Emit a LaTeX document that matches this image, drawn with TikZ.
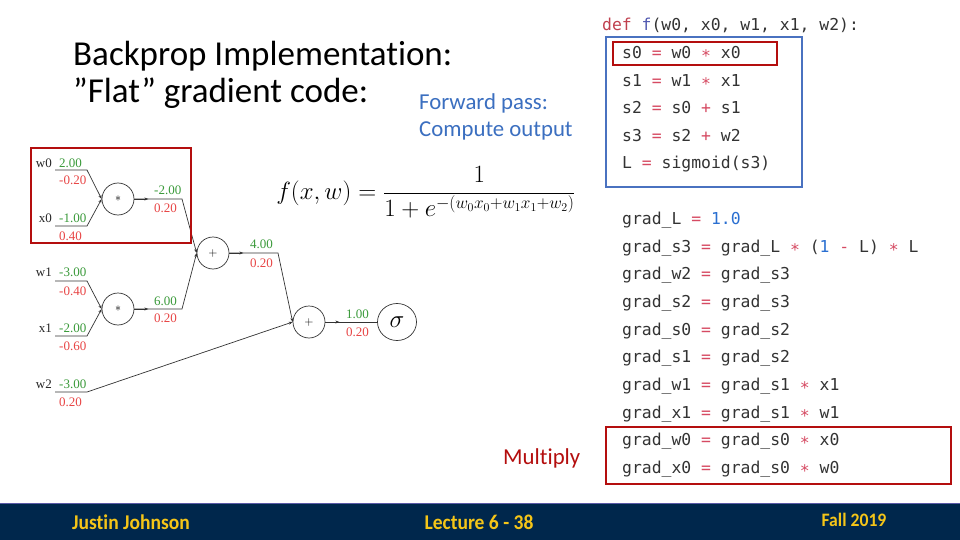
\documentclass[tikz,border=0pt]{standalone}
\usepackage{fontspec}
\setmainfont[Ligatures=NoCommon]{Carlito}
\newfontfamily\codefont{DejaVu Sans Mono}
\newfontfamily\graphfont{Liberation Serif}
\usetikzlibrary{arrows.meta,calc,shapes.geometric}
\definecolor{footnavy}{HTML}{00274C}
\definecolor{footyellow}{HTML}{F5C518}
\definecolor{boxred}{HTML}{B40E0E}
\definecolor{boxblue}{HTML}{4A72C0}
\definecolor{fwdblue}{HTML}{3B6FC0}
\definecolor{valgreen}{HTML}{3A9A3A}
\definecolor{valred}{HTML}{E84545}
\definecolor{codetxt}{HTML}{333333}
\definecolor{codeop}{HTML}{D64A62}
\definecolor{codekw}{HTML}{C0404E}
\definecolor{codefn}{HTML}{5058B0}
\definecolor{codenum}{HTML}{2A6FD1}
\definecolor{edgegray}{HTML}{333333}
\newcommand\cop[1]{\textcolor{codeop}{#1}}
\newcommand\cnum[1]{\textcolor{codenum}{#1}}
\newcommand\cmul{\cop{∗}}
\newcommand\foot[1]{\scalebox{0.93}[1]{\bfseries #1}}
\begin{document}
\begin{tikzpicture}[x=1pt,y=-1pt,
  titletext/.style={anchor=base west, font=\fontsize{35}{38}\selectfont, text=black, inner sep=0},
  fwdtext/.style={anchor=base west, font=\fontsize{22.8}{24}\selectfont, text=fwdblue, inner sep=0},
  codeline/.style={anchor=base west, font=\codefont\fontsize{16.4}{18}\selectfont, text=codetxt, inner sep=0},
  opnode/.style={circle, draw=edgegray, line width=0.7pt, minimum size=32pt, inner sep=0, font=\fontsize{13}{14}\selectfont},
  glab/.style={font=\graphfont\fontsize{13}{14}\selectfont, inner sep=0, anchor=base east, text=black!85},
  valg/.style={font=\graphfont\fontsize{13}{14}\selectfont, inner sep=0, anchor=base west, text=valgreen},
  valr/.style={font=\graphfont\fontsize{13}{14}\selectfont, inner sep=0, anchor=base west, text=valred},
  wire/.style={draw=edgegray, line width=0.7pt},
  tipped/.style={-{Stealth[length=4pt,width=3pt]}},
  redbox/.style={draw=boxred, line width=2.6pt},
  bluebox/.style={draw=boxblue, line width=2.4pt},
  foottext/.style={anchor=center, font=\fontsize{21}{22}\selectfont, text=footyellow, inner sep=0}
]
\useasboundingbox (0,0) rectangle (960,540);
\fill[white] (0,0) rectangle (960,540);

% title
\node[titletext] (t1) at (73,66) {Backprop Implementation:};
\node[titletext] (t2) at (73,103) {”Flat” gradient code:};
\node[fwdtext] (fw1) at (419,110) {Forward pass:};
\node[fwdtext] (fw2) at (419,137) {Compute output};

% formula
\node[anchor=base, inner sep=0, font=\fontsize{23.7}{28}\selectfont] (formula) at (426,199)
  {$\displaystyle f(x,w)=\frac{1}{1+e^{-(w_0x_0+w_1x_1+w_2)}}$};

% graph nodes
\node[opnode] (mul0) at (118,199) {$\ast$};
\node[opnode] (mul1) at (118,309) {$\ast$};
\node[opnode] (add0) at (213,253) {$+$};
\node[opnode] (add1) at (309,322) {$+$};
\node[ellipse, draw=edgegray, line width=0.7pt, minimum width=39pt, minimum height=37pt, inner sep=0, font=\fontsize{32}{34}\selectfont] (sig) at (397,322) {$\sigma$};

% input labels
\node[glab] (lw0) at (52,167.5) {w0};
\node[valg] (gw0) at (59,167.5) {2.00};
\node[valr] (rw0) at (59,184.5) {-0.20};
\node[glab] (lx0) at (52,222.5) {x0};
\node[valg] (gx0) at (59,222.5) {-1.00};
\node[valr] (rx0) at (59,240.5) {0.40};
\node[glab] (lw1) at (52,276.5) {w1};
\node[valg] (gw1) at (59,276.5) {-3.00};
\node[valr] (rw1) at (59,295.5) {-0.40};
\node[glab] (lx1) at (52,332.5) {x1};
\node[valg] (gx1) at (59,332.5) {-2.00};
\node[valr] (rx1) at (59,350.5) {-0.60};
\node[glab] (lw2) at (52,388.5) {w2};
\node[valg] (gw2) at (59,388.5) {-3.00};
\node[valr] (rw2) at (59,406.5) {0.20};

% intermediate labels
\node[valg] (gm0) at (154,194.5) {-2.00};
\node[valr] (rm0) at (154,212.5) {0.20};
\node[valg] (gm1) at (154,305.5) {6.00};
\node[valr] (rm1) at (154,322.5) {0.20};
\node[valg] (ga0) at (250,248.5) {4.00};
\node[valr] (ra0) at (250,267.5) {0.20};
\node[valg] (ga1) at (346,318.5) {1.00};
\node[valr] (ra1) at (346,336.5) {0.20};

% wire coordinates
\coordinate (w0a) at (55,170);  \coordinate (w0b) at (87,170);
\coordinate (x0a) at (55,226);  \coordinate (x0b) at (87,226);
\coordinate (w1a) at (55,281);  \coordinate (w1b) at (87,281);
\coordinate (x1a) at (55,336);  \coordinate (x1b) at (87,336);
\coordinate (w2a) at (55,392);  \coordinate (w2b) at (87,392);
\coordinate (m0k) at (182,199);
\coordinate (m1k) at (182,309);
\coordinate (a0k) at (278,253);

% wires
\draw[wire, tipped] (w0a) -- (w0b) -- (mul0.west);
\draw[wire, tipped] (x0a) -- (x0b) -- (mul0.west);
\draw[wire, tipped] (w1a) -- (w1b) -- (mul1.west);
\draw[wire, tipped] (x1a) -- (x1b) -- (mul1.west);
\draw[wire, tipped] (w2a) -- (w2b) -- (add1.west);
\draw[wire, tipped] (mul0.east) -- (m0k) -- (add0.west);
\draw[wire, tipped] (mul1.east) -- (m1k) -- (add0.west);
\draw[wire, tipped] (add0.east) -- (a0k) -- (add1.west);
\draw[wire] (add1.east) -- (sig.west);
% small direction marks
\draw[wire, tipped] (mul0.east) -- ($(mul0.east)+(14,0)$);
\draw[wire, tipped] (mul1.east) -- ($(mul1.east)+(14,0)$);
\draw[wire, tipped] (add0.east) -- ($(add0.east)+(14,0)$);
\draw[wire, tipped] (add1.east) -- ($(add1.east)+(14,0)$);

% graph highlight box
\draw[redbox] (31,148) rectangle (191,243);

% forward code
\node[codeline] (cdef) at (602,31) {\textcolor{codekw}{def} \textcolor{codefn}{f}(w0, x0, w1, x1, w2):};
\node[codeline] (c1) at (622,58.5) {s0 \cop{=} w0 \cmul{} x0};
\node[codeline] (c2) at (622,86.5) {s1 \cop{=} w1 \cmul{} x1};
\node[codeline] (c3) at (622,113.5) {s2 \cop{=} s0 \cop{+} s1};
\node[codeline] (c4) at (622,141.5) {s3 \cop{=} s2 \cop{+} w2};
\node[codeline] (c5) at (622,168.5) {L \cop{=} sigmoid(s3)};
\draw[bluebox] (606,37) rectangle (802,187);
\draw[redbox, line width=2.4pt] (613,42) rectangle (777,65);

% backward code
\node[codeline] (g1) at (622,224.5) {grad\_L \cop{=} \cnum{1.0}};
\node[codeline] (g2) at (622,252.2) {grad\_s3 \cop{=} grad\_L \cmul{} (\cnum{1} \cop{-} L) \cmul{} L};
\node[codeline] (g3) at (622,279.8) {grad\_w2 \cop{=} grad\_s3};
\node[codeline] (g4) at (622,307.5) {grad\_s2 \cop{=} grad\_s3};
\node[codeline] (g5) at (622,335.2) {grad\_s0 \cop{=} grad\_s2};
\node[codeline] (g6) at (622,362.8) {grad\_s1 \cop{=} grad\_s2};
\node[codeline] (g7) at (622,390.5) {grad\_w1 \cop{=} grad\_s1 \cmul{} x1};
\node[codeline] (g8) at (622,418.2) {grad\_x1 \cop{=} grad\_s1 \cmul{} w1};
\node[codeline] (g9) at (622,445.8) {grad\_w0 \cop{=} grad\_s0 \cmul{} x0};
\node[codeline] (g10) at (622,473.5) {grad\_x0 \cop{=} grad\_s0 \cmul{} w0};
\draw[redbox, line width=2.4pt] (606,427) rectangle (951,484);
\node[anchor=base west, inner sep=0, font=\fontsize{22.8}{24}\selectfont, text=boxred] (mult) at (503,464) {Multiply};

% footer
\fill[footnavy] (0,503) rectangle (960,540);
\draw[blue!30!gray, line width=0.8pt] (0,503) -- (960,503);
\node[foottext] (fa) at (131,522) {\foot{Justin Johnson}};
\node[foottext] (fb) at (479,522) {\foot{Lecture 6 - 38}};
\node[foottext, font=\fontsize{19}{20}\selectfont] (fc) at (854,520) {\foot{Fall 2019}};
\end{tikzpicture}
\end{document}
